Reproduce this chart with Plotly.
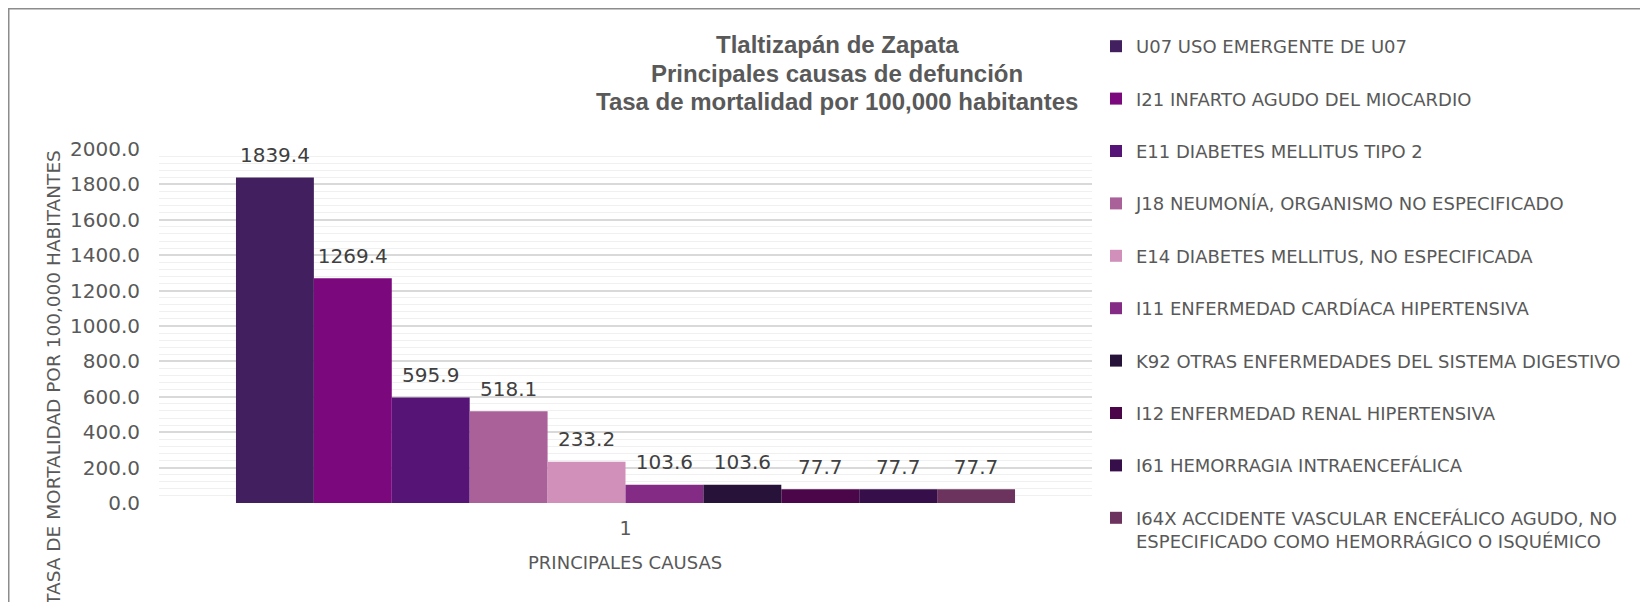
import plotly.graph_objects as go

# ---- data ----
category = ["1"]
causes = [
    "U07 USO EMERGENTE DE U07",
    "I21 INFARTO AGUDO DEL MIOCARDIO",
    "E11 DIABETES MELLITUS TIPO 2",
    "J18 NEUMONÍA, ORGANISMO NO ESPECIFICADO",
    "E14 DIABETES MELLITUS, NO ESPECIFICADA",
    "I11 ENFERMEDAD CARDÍACA HIPERTENSIVA",
    "K92 OTRAS ENFERMEDADES DEL SISTEMA DIGESTIVO",
    "I12 ENFERMEDAD RENAL HIPERTENSIVA",
    "I61 HEMORRAGIA INTRAENCEFÁLICA",
    "I64X ACCIDENTE VASCULAR ENCEFÁLICO AGUDO, NO<br>ESPECIFICADO COMO HEMORRÁGICO O ISQUÉMICO",
]
rates = [1839.4, 1269.4, 595.9, 518.1, 233.2, 103.6, 103.6, 77.7, 77.7, 77.7]
colors = ["#421F5E", "#7B097D", "#561576", "#AA6199", "#D190BA",
          "#842C85", "#27133A", "#4B0649", "#360E4A", "#6B335D"]
y_ticks = [0, 200, 400, 600, 800, 1000, 1200, 1400, 1600, 1800, 2000]
title_lines = [
    "Tlaltizapán de Zapata",
    "Principales causas de defunción",
    "Tasa de mortalidad por 100,000 habitantes",
]

# ---- layout geometry (figure pixels) ----
W, H = 1648, 602
L, R, T, B = 151, 1084, 141, 495
pw, ph = R - L, B - T

def px_x(x):
    return (x - L) / pw

def px_y(y):
    return (B - y) / ph

FONT = "DejaVu Sans"
GREY = "#595959"

fig = go.Figure()
for i, (name, val, col) in enumerate(zip(causes, rates, colors)):
    fig.add_trace(go.Bar(
        x=category, y=[val], name=name,
        marker=dict(color=col, line=dict(width=0)),
        offsetgroup=str(i), alignmentgroup="a", legendgroup=str(i),
        hoverinfo="skip",
    ))
for i, (name, val) in enumerate(zip(causes, rates)):
    fig.add_trace(go.Scatter(
        x=category, y=[val], mode="markers+text",
        text=[f"{val:.1f}"], textposition="top center",
        textfont=dict(family=FONT, size=20, color="#404040"),
        marker=dict(size=15, opacity=0),
        offsetgroup=str(i), alignmentgroup="a",
        showlegend=False, hoverinfo="skip", cliponaxis=False,
    ))

title_y = [36.3, 65.2, 93.5]
annotations = [
    dict(text=txt, xref="paper", yref="paper", x=px_x(829), y=px_y(yy),
         xanchor="center", yanchor="middle", showarrow=False,
         font=dict(family="Liberation Sans", size=24, color=GREY, weight="bold"))
    for txt, yy in zip(title_lines, title_y)
]
annotations += [
    dict(text="TASA DE MORTALIDAD POR 100,000 HABITANTES", textangle=-90,
         xref="paper", yref="paper", x=px_x(44.8), y=px_y(370),
         xanchor="center", yanchor="middle", showarrow=False,
         font=dict(family=FONT, size=18.5, color=GREY)),
    dict(text="PRINCIPALES CAUSAS",
         xref="paper", yref="paper", x=px_x(617), y=px_y(554.5),
         xanchor="center", yanchor="middle", showarrow=False,
         font=dict(family=FONT, size=18, color=GREY)),
]

fig.update_layout(
    width=W, height=H,
    margin=dict(l=L, r=W - R, t=T, b=H - B, autoexpand=False),
    paper_bgcolor="white", plot_bgcolor="white",
    barmode="group", bargap=0.165, bargroupgap=0,
    scattermode="group", scattergap=0.165,
    font=dict(family=FONT, color=GREY),
    legend=dict(
        x=px_x(1088), xanchor="left", y=px_y(20), yanchor="top",
        font=dict(family=FONT, size=18, color=GREY),
        traceorder="grouped", tracegroupgap=26, valign="top",
        bgcolor="rgba(0,0,0,0)", maxheight=600,
    ),
    xaxis=dict(
        type="category", showgrid=False, zeroline=False, showline=False,
        ticks="", tickfont=dict(family=FONT, size=19, color=GREY),
        ticklabelstandoff=12,
    ),
    yaxis=dict(
        range=[0, 2000], tickvals=y_ticks,
        ticktext=[f"{v:.1f}" for v in y_ticks],
        showgrid=True, gridcolor="#D9D9D9", gridwidth=1.5,
        zeroline=False, showline=False, ticks="",
        tickfont=dict(family=FONT, size=20, color=GREY),
        ticklabelstandoff=18,
        minor=dict(dtick=40, showgrid=True, gridcolor="#F0F0F0", gridwidth=1.3),
    ),
    annotations=annotations,
    shapes=[
        dict(type="rect", xref="paper", yref="paper",
             x0=px_x(0.75), y0=px_y(0.75), x1=px_x(1700), y1=px_y(700),
             line=dict(color="#8C8C8C", width=1.5), fillcolor="rgba(0,0,0,0)",
             layer="below"),
    ],
)

fig.write_html("out.html")
